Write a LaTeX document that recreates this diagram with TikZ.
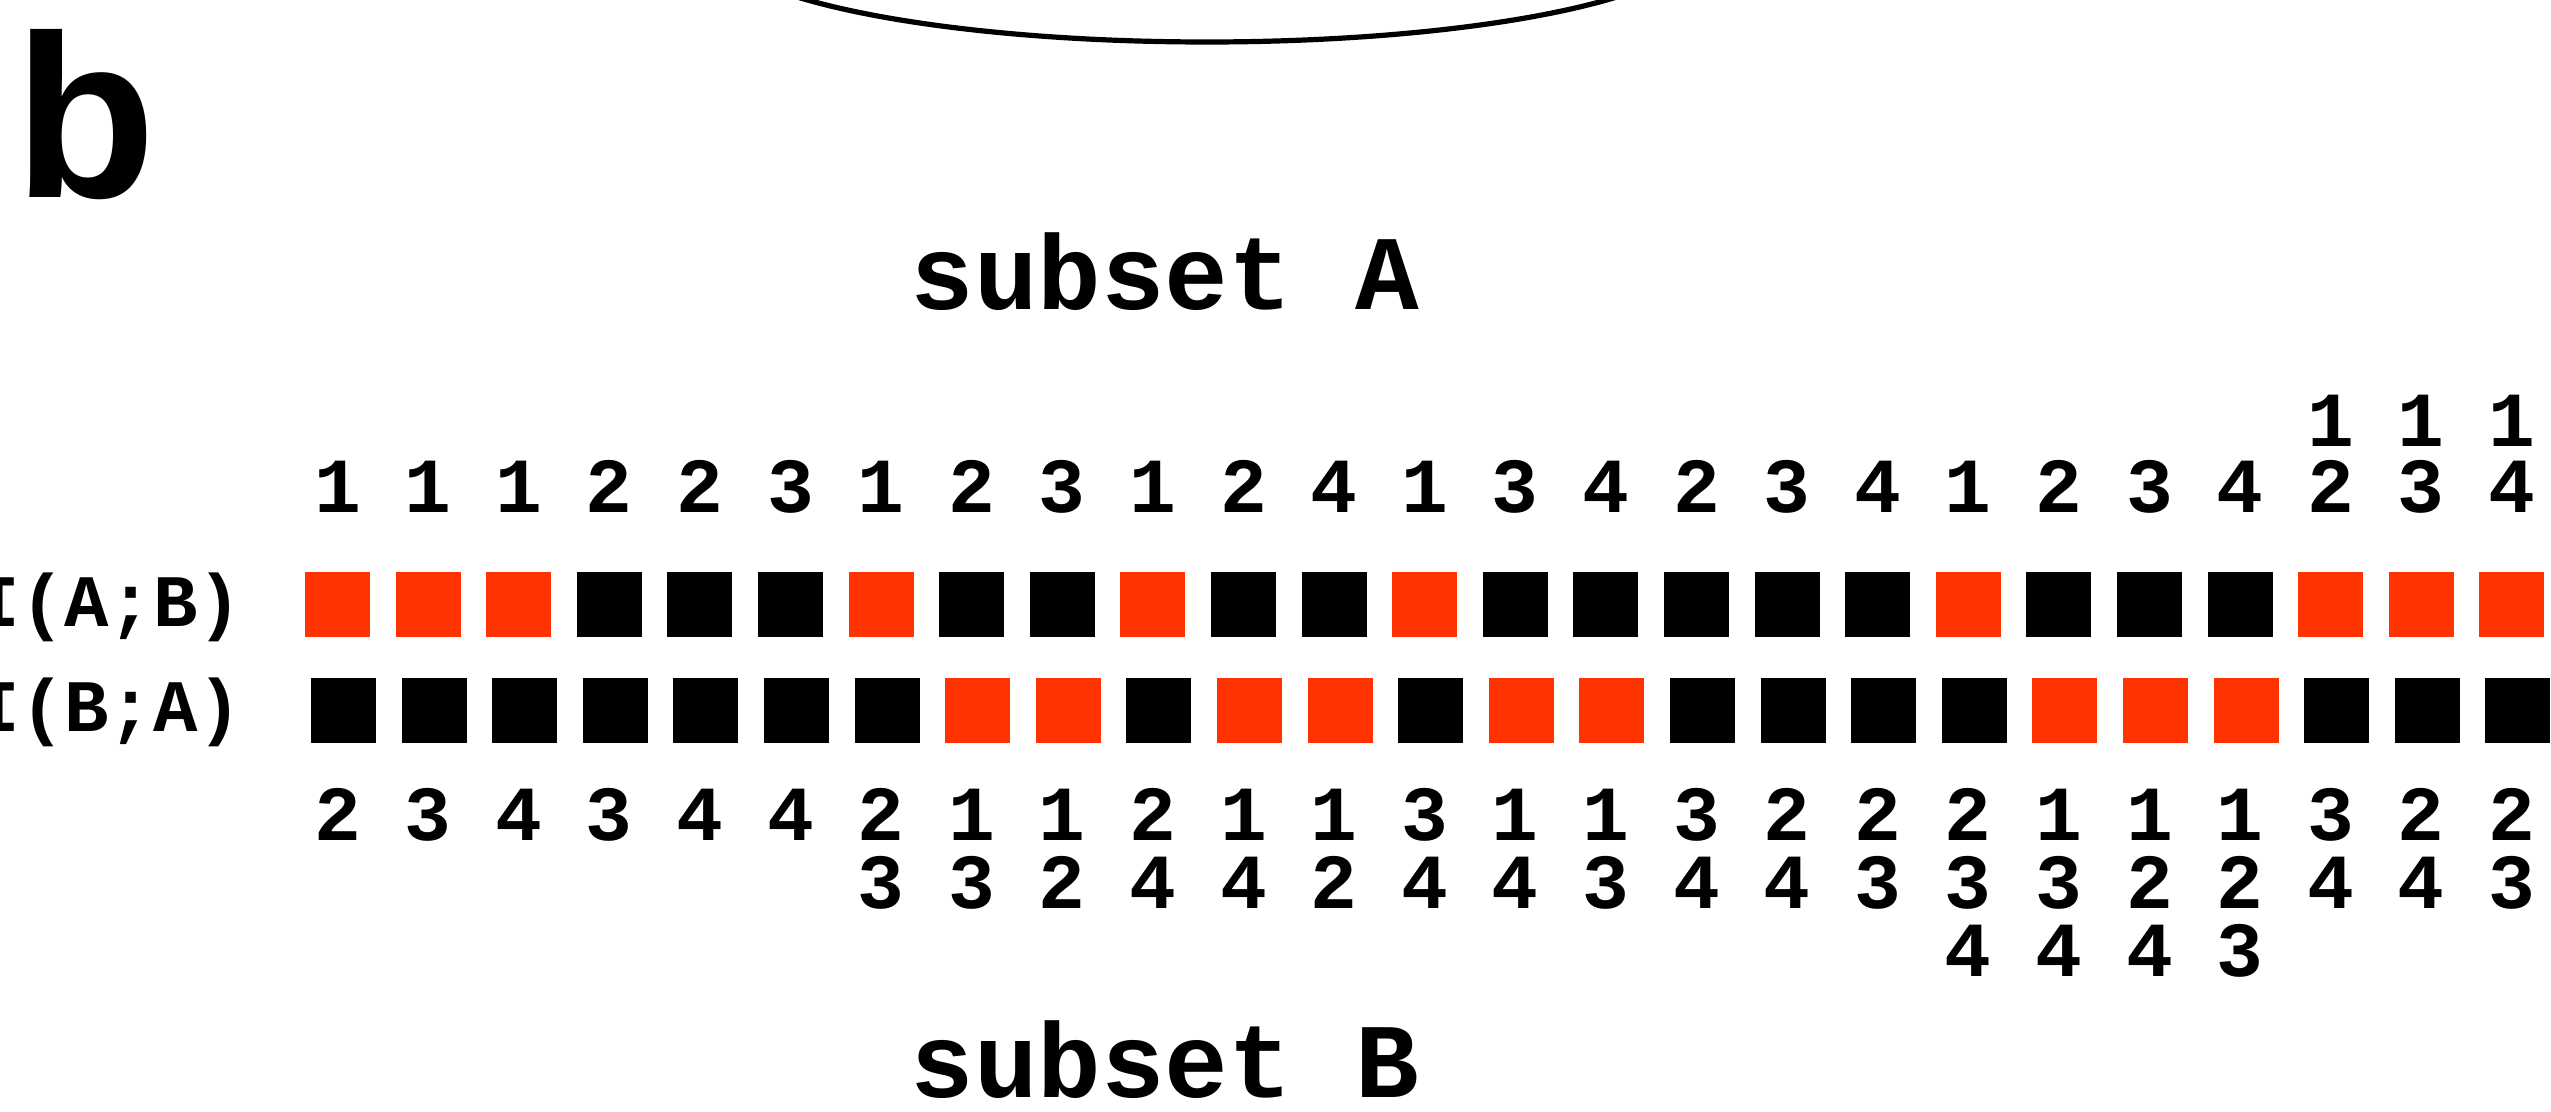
\documentclass[tikz,border=0pt]{standalone}
\usepackage{fontspec}
\setmonofont{Liberation Mono}
\newfontfamily\hvfont{Liberation Sans}
\definecolor{sqred}{RGB}{255,51,0}
\begin{document}
\begin{tikzpicture}[x=0.25pt,y=-0.25pt,
  sq/.style={minimum size=16.25pt,inner sep=0pt,outer sep=0pt,draw=none},
  dig/.style={font=\fontsize{19.5}{19.5}\selectfont\ttfamily\bfseries,anchor=base,inner sep=0pt,text height=11.5pt,text depth=0pt},
  ttl/.style={font=\fontsize{26.5}{26.5}\selectfont\ttfamily\bfseries,anchor=base,inner sep=0pt},
  lbl/.style={font=\fontsize{18.5}{18.5}\selectfont\ttfamily\bfseries,anchor=base east,inner sep=0pt}]
\useasboundingbox (0,0) rectangle (2551,1112);
\fill[white] (0,0) rectangle (2551,1112);
\begin{scope}
  \clip (0,0) rectangle (2551,1112);
  \draw[line width=1.3pt] (1207,-60) ellipse [x radius=494, y radius=102];
\end{scope}
% panel letter
\node[font=\fontsize{58}{58}\selectfont\hvfont\bfseries,anchor=base west,inner sep=0pt] (panelb) at (14,198) {b};
% titles
\node[ttl] (subA) at (1165,310) {subset A};
\node[ttl] (subB) at (1165,1097) {subset B};
% row labels
\node[lbl] (lAB) at (243,626) {I(A;B)};
\node[lbl] (lBA) at (243,731) {I(B;A)};
% top squares I(A;B)
\foreach \i/\c in {1/sqred,2/sqred,3/sqred,4/black,5/black,6/black,7/sqred,8/black,9/black,10/sqred,
  11/black,12/black,13/sqred,14/black,15/black,16/black,17/black,18/black,19/sqred,20/black,
  21/black,22/black,23/sqred,24/sqred,25/sqred}
  \node[sq,fill=\c] (ta\i) at ({337.5+90.6*(\i-1)},604.5) {};
% bottom squares I(B;A)
\foreach \i/\c in {1/black,2/black,3/black,4/black,5/black,6/black,7/black,8/sqred,9/sqred,10/black,
  11/sqred,12/sqred,13/black,14/sqred,15/sqred,16/black,17/black,18/black,19/black,20/sqred,
  21/sqred,22/sqred,23/black,24/black,25/black}
  \node[sq,fill=\c] (tb\i) at ({343.5+90.6*(\i-1)},710) {};
% subset A digits
\foreach \i/\d in {1/1,2/1,3/1,4/2,5/2,6/3,7/1,8/2,9/3,10/1,11/2,12/4,13/1,14/3,15/4,16/2,17/3,18/4,
  19/1,20/2,21/3,22/4,23/2,24/3,25/4}
  \node[dig] (da\i) at ({337.5+90.6*(\i-1)},513) {\d};
\foreach \i in {23,24,25}
  \node[dig] (dA\i) at ({337.5+90.6*(\i-1)},446) {1};
% subset B digits
\foreach \i/\d in {1/2,2/3,3/4,4/3,5/4,6/4,7/2,8/1,9/1,10/2,11/1,12/1,13/3,14/1,15/1,16/3,17/2,18/2,
  19/2,20/1,21/1,22/1,23/3,24/2,25/2}
  \node[dig] (db\i) at ({337.5+90.6*(\i-1)},840) {\d};
\foreach \i/\d in {7/3,8/3,9/2,10/4,11/4,12/2,13/4,14/4,15/3,16/4,17/4,18/3,
  19/3,20/3,21/2,22/2,23/4,24/4,25/3}
  \node[dig] (dbb\i) at ({337.5+90.6*(\i-1)},908) {\d};
\foreach \i/\d in {19/4,20/4,21/4,22/3}
  \node[dig] (dbbb\i) at ({337.5+90.6*(\i-1)},976) {\d};
\end{tikzpicture}
\end{document}
